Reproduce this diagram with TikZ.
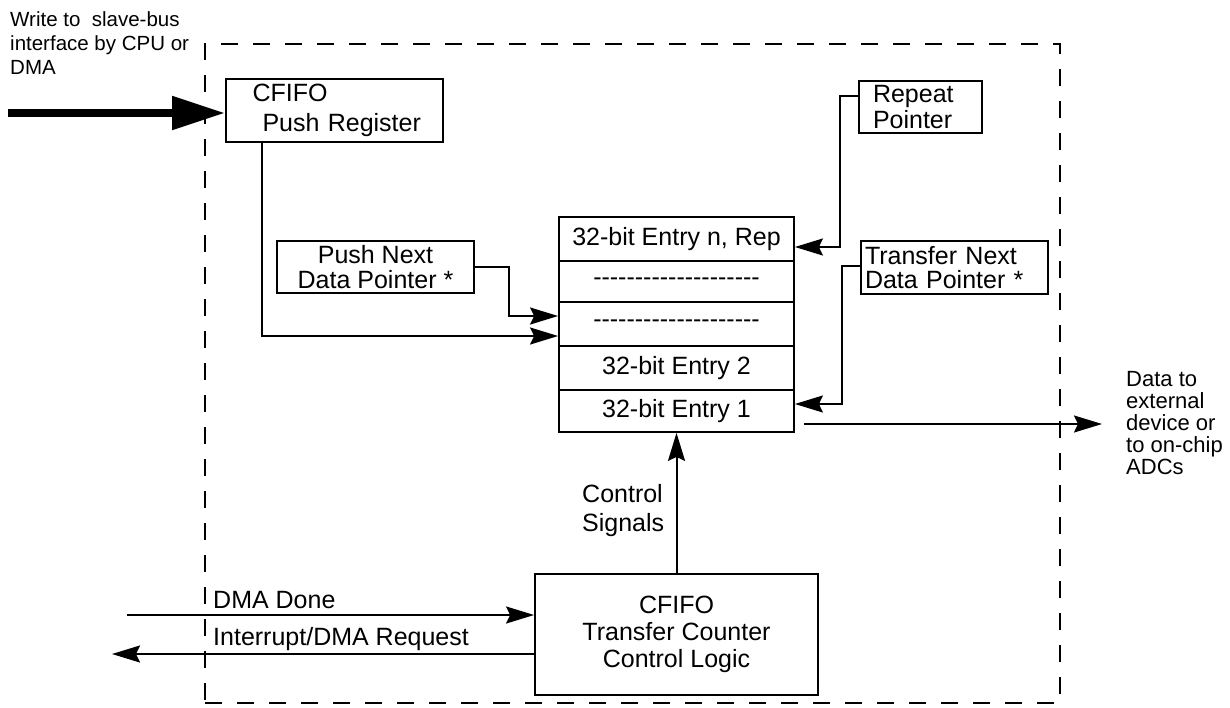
\documentclass[tikz,border=0pt]{standalone}
\usepackage{fontspec}
\setmainfont{Liberation Sans}
\usetikzlibrary{arrows.meta}
\newcommand\hyone{-\kern0pt}
\newcommand\hyfive{\hyone\hyone\hyone\hyone\hyone}
\newcommand\hyrow{\hyfive\hyfive\hyfive\hyfive}
\begin{document}
\begin{tikzpicture}[x=1pt,y=-1pt,
  box/.style={draw, line width=1.8pt, inner sep=0pt, font=\fontsize{25pt}{27pt}\selectfont},
  entry/.style={box, minimum width=235pt},
  conn/.style={line width=2pt, -{Stealth[length=28pt,width=17pt,inset=4pt]}},
  bigarrow/.style={line width=8pt, -{Triangle[length=53pt,width=32pt]}},
  lbl/.style={inner sep=0pt, align=left, font=\fontsize{25pt}{29pt}\selectfont},
  small/.style={inner sep=0pt, align=left, font=\fontsize{20.5pt}{24pt}\selectfont},
  side/.style={inner sep=0pt, align=left, font=\fontsize{22pt}{22pt}\selectfont},
  chipline/.style={draw, line width=2pt, dash pattern=on 17pt off 15pt, inner sep=0pt}
]
\useasboundingbox (0,0) rectangle (1230,707);

% dashed boundary
\node[chipline, minimum width=855pt, minimum height=659pt] (chip) at (632.5,373.5) {};

% boxes
\node[box, minimum width=217pt, minimum height=63pt, text width=180pt, align=left,
      font=\fontsize{25pt}{30pt}\selectfont] (push) at (334.5,110.5)
  {\hspace*{8pt}CFIFO\\\hspace*{18pt}Push Register};
\node[box, minimum width=123pt, minimum height=52pt, text width=95pt, align=left,
      font=\fontsize{25pt}{26pt}\selectfont] (rep) at (920.5,107) {Repeat\\Pointer};
\node[box, minimum width=197pt, minimum height=52pt, align=center,
      font=\fontsize{25pt}{25pt}\selectfont] (pnext) at (375.5,267) {Push Next\\Data Pointer *};
\node[box, minimum width=187pt, minimum height=53pt, text width=179pt, align=left,
      font=\fontsize{25pt}{23.5pt}\selectfont] (tnext) at (954.5,267.5) {Transfer Next\\Data Pointer *};
\node[box, minimum width=283pt, minimum height=121pt, align=center] (ctrl) at (676.5,634.5)
  {CFIFO\\Transfer Counter\\Control Logic};

% FIFO stack
\node[entry, minimum height=44pt] (r1) at (676.5,239) {32-bit Entry n, Rep};
\node[entry, minimum height=41pt] (r2) at (676.5,281.5) {\hyrow};
\node[entry, minimum height=44pt] (r3) at (676.5,324) {\hyrow};
\node[entry, minimum height=44pt] (r4) at (676.5,368) {32-bit Entry 2};
\node[entry, minimum height=42pt] (r5) at (676.5,411) {32-bit Entry 1};

% labels
\node[small, anchor=west] (wlabel) at (10,43) {Write to\ \ slave-bus\\interface by CPU or\\DMA};
\node[side, anchor=west] (datato) at (1126,423) {Data to\\external\\device or\\to on-chip\\ADCs};
\node[lbl, anchor=west] (csig) at (582,511) {Control\\Signals};
\node[lbl, anchor=base west] (dmadone) at (213,608) {DMA Done};
\node[lbl, anchor=base west] (intreq) at (213,645) {Interrupt/DMA Request};

% free ends
\coordinate (wr) at (8,113);
\coordinate (out) at (1102,424);
\coordinate (dmain) at (127,615);
\coordinate (intout) at (112,654);

% connectors
\draw[bigarrow] (wr) -- (wr -| push.west);
\draw[conn] ([xshift=-72.5pt]push.south) |- ([yshift=-12pt]r3.west);
\draw[conn] (pnext.east) -- ++(34,0) |- ([yshift=8pt]r3.west);
\draw[conn] ([yshift=11pt]rep.west) -- ++(-18,0) |- ([yshift=-8pt]r1.east);
\draw[conn] ([yshift=1.5pt]tnext.west) -- ++(-18,0) |- ([yshift=7pt]r5.east);
\draw[conn] ([xshift=9pt]out -| r5.east) -- (out);
\draw[conn] (ctrl.north) -- (r5.south);
\draw[conn] (dmain) -- (dmain -| ctrl.west);
\draw[conn] (intout -| ctrl.west) -- (intout);
\end{tikzpicture}
\end{document}
